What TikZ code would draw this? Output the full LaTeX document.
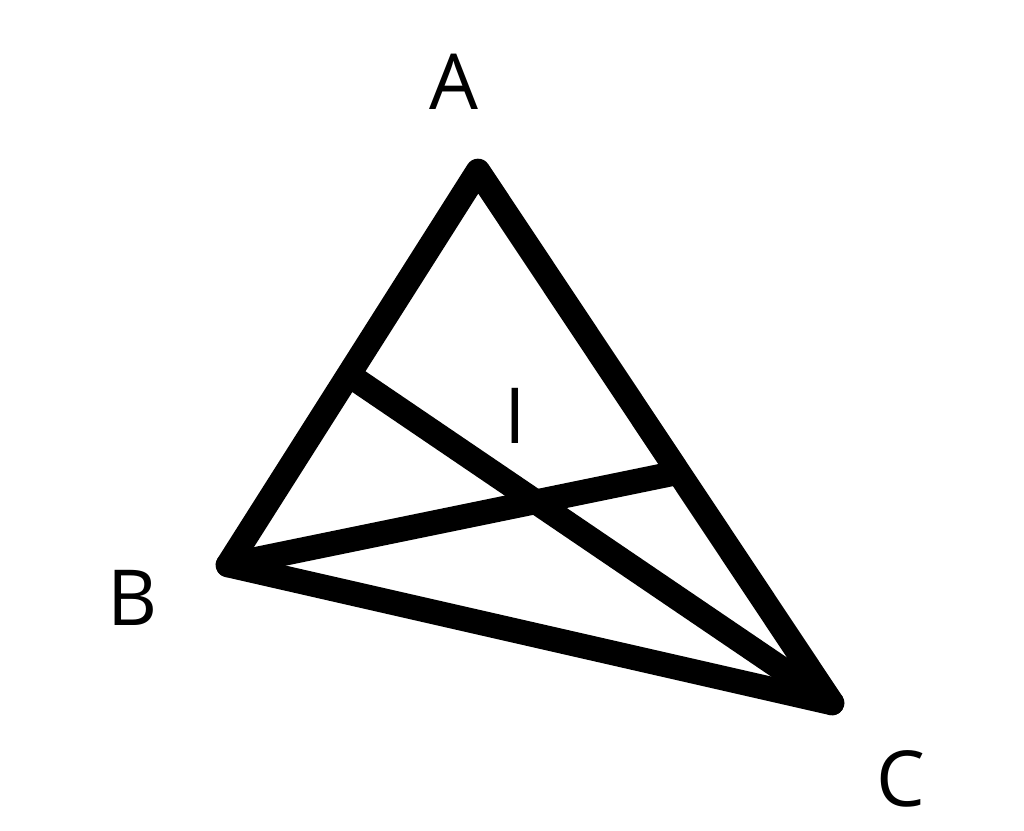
\documentclass[tikz,border=0pt]{standalone}
\usepackage{fontspec}
\setmainfont{Open Sans}
\begin{document}
\begin{tikzpicture}[x=0.02cm,y=-0.02cm,
  edge/.style={line width=14pt,line cap=round,line join=round,black},
  lbl/.style={font=\fontsize{44}{48}\selectfont,inner sep=0pt,anchor=center}]
\useasboundingbox (0,0) rectangle (1024,831);
\coordinate (A) at (478,171);
\coordinate (B) at (228,565);
\coordinate (C) at (832,703);
\coordinate (D) at (352,377);
\coordinate (E) at (676,473);
\draw[edge] (A) -- (B) -- (C) -- cycle;
\draw[edge] (B) -- (E);
\draw[edge] (C) -- (D);
\node[lbl] (la) at (454,82) {A};
\node[lbl] (lb) at (133,598) {B};
\node[lbl] (lc) at (901,779) {C};
\node[lbl] (li) at (515,416) {I};
\end{tikzpicture}
\end{document}
